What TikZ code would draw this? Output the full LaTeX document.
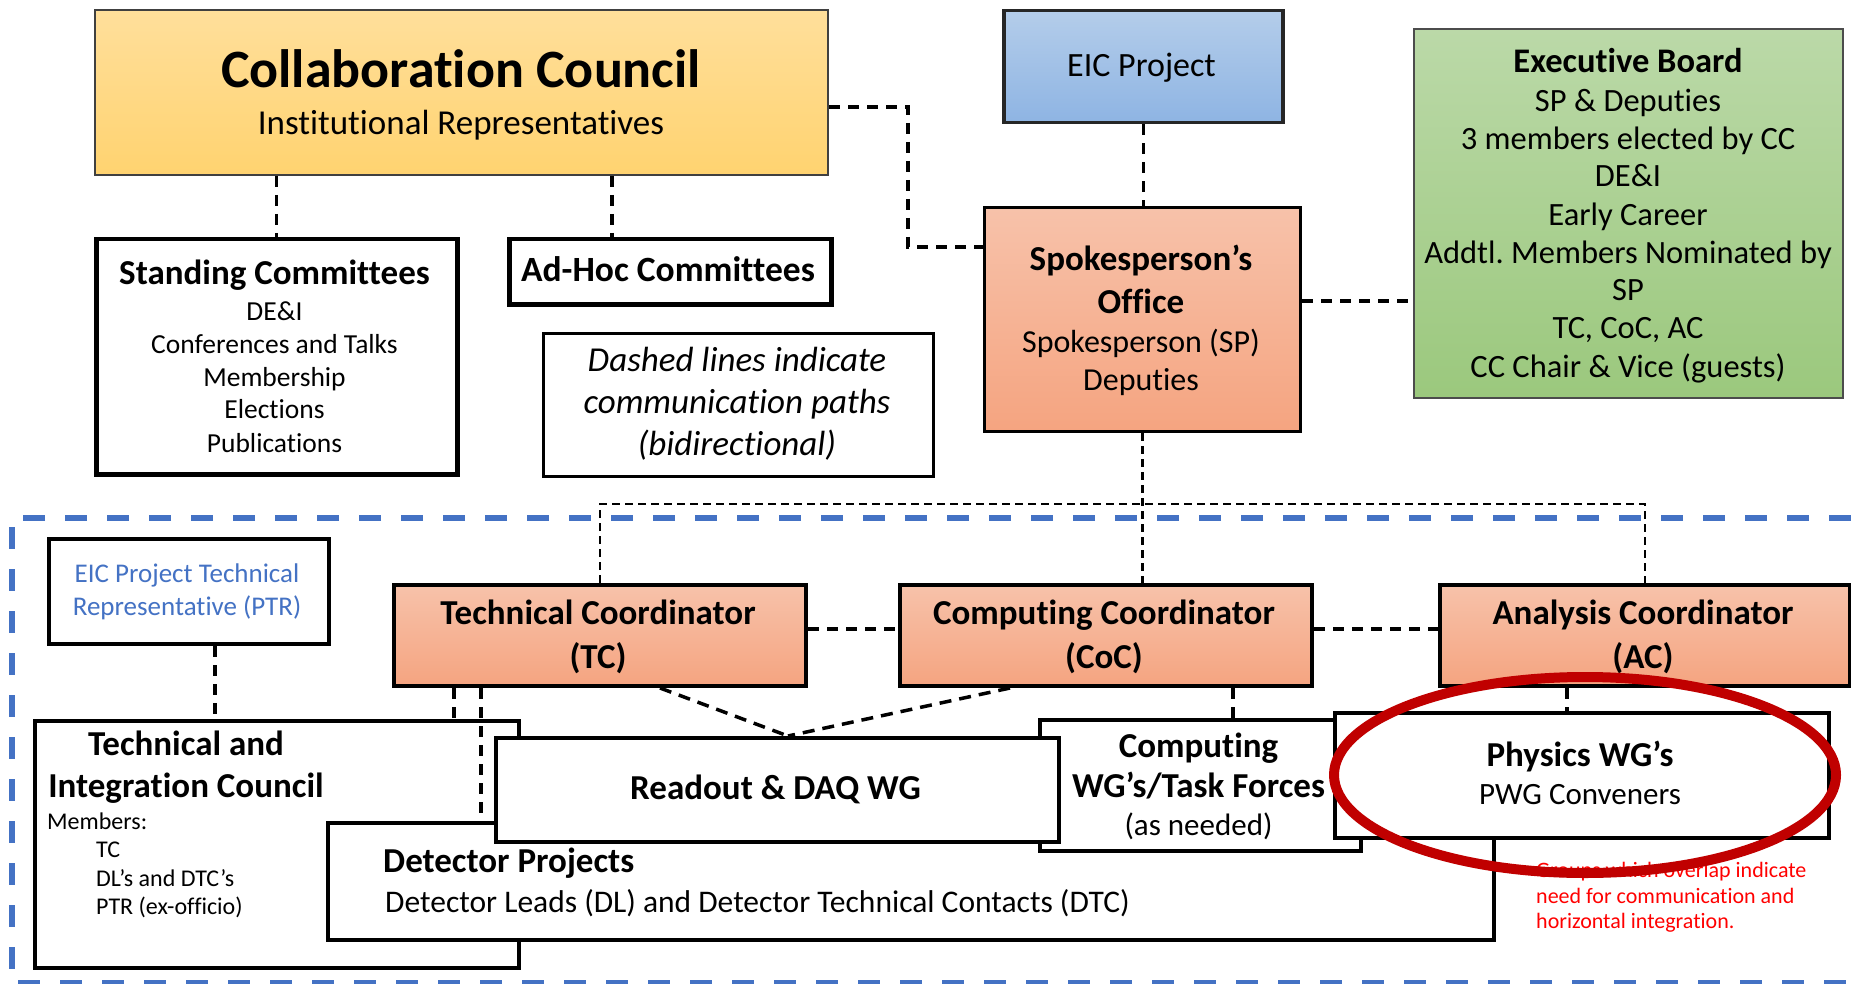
\documentclass[tikz,border=0pt]{standalone}
\usepackage{fontspec}
\setmainfont{Carlito}[Ligatures={TeX,NoCommon}]
\frenchspacing
\definecolor{ccTop}{RGB}{255,223,155}
\definecolor{ccBot}{RGB}{255,211,112}
\definecolor{eicTop}{RGB}{180,205,234}
\definecolor{eicBot}{RGB}{142,180,227}
\definecolor{orTop}{RGB}{247,194,170}
\definecolor{orBot}{RGB}{245,164,128}
\definecolor{grTop}{RGB}{187,217,168}
\definecolor{grBot}{RGB}{155,200,125}
\definecolor{frameBlue}{RGB}{68,114,196}
\definecolor{ovalRed}{RGB}{192,0,0}
\definecolor{noteRed}{RGB}{255,0,0}
\newcommand\myfs[1]{\fontsize{#1}{#1}\selectfont}
\tikzset{
  conn/.style={line width=3.2pt, dash pattern=on 11pt off 8pt},
  diagconn/.style={line width=3.5pt, dash pattern=on 12pt off 8pt},
  fine/.style={line width=2.3pt, dash pattern=on 8pt off 5pt},
  boxbase/.style={inner sep=0pt, anchor=north west},
  wbox/.style={boxbase, draw=black, fill=white, line width=4pt},
  orbox/.style={boxbase, draw=black, line width=4pt, top color=orTop, bottom color=orBot},
  txt/.style={inner sep=0pt, anchor=base},
  ltxt/.style={inner sep=0pt, anchor=base west},
  bt/.style={txt, font=\bfseries\myfs{35}},
  rt/.style={txt, font=\myfs{31}},
}
\begin{document}
\begin{tikzpicture}[x=1pt,y=-1pt]
\useasboundingbox (0,0) rectangle (1851,984);

% ---------- top part boxes ----------
\node[boxbase, draw=black!75, line width=2pt, top color=ccTop, bottom color=ccBot,
      minimum width=733, minimum height=165] (CC) at (94,9) {};
\node[wbox, line width=4.5pt, minimum width=361, minimum height=235] (Std) at (94,237) {};
\node[wbox, line width=4.5pt, minimum width=322, minimum height=65] (AdHoc) at (507,237) {};
\node[wbox, line width=3pt, minimum width=390, minimum height=143] (Note) at (542,332) {};
\node[boxbase, draw=black!85, line width=3.5pt, top color=eicTop, bottom color=eicBot,
      minimum width=279, minimum height=112] (EIC) at (1002,9) {};
\node[boxbase, draw=black, line width=3pt, top color=orTop, bottom color=orBot,
      minimum width=316, minimum height=224] (SO) at (983,206) {};
\node[boxbase, draw=black!70, line width=2pt, top color=grTop, bottom color=grBot,
      minimum width=429, minimum height=369] (EB) at (1413,28) {};

% ---------- blue dashed frame ----------
\draw[frameBlue, line width=6pt, dash pattern=on 22pt off 20pt]
  (1851,518) -- (12,518) -- (12,983) -- (1851,983);

% ---------- lower part boxes ----------
\node[wbox, minimum width=280, minimum height=105] (PTR) at (47,537) {};
\node[orbox, minimum width=412, minimum height=101] (TC) at (392,583) {};
\node[orbox, minimum width=412, minimum height=101] (CoC) at (898,583) {};
\node[orbox, minimum width=410, minimum height=101] (AC) at (1438,583) {};
\node[wbox, minimum width=484, minimum height=247] (TIC) at (33,719) {};
\node[wbox, line width=3.5pt, minimum width=1166, minimum height=117] (Det) at (326,821) {};
\node[wbox, line width=3.5pt, minimum width=321, minimum height=131] (Comp) at (1038,718) {};
\node[wbox, line width=3.5pt, minimum width=563, minimum height=104] (Read) at (494,736) {};
\node[wbox, line width=3.5pt, minimum width=494, minimum height=125] (Phys) at (1333,711) {};

% ---------- helper coordinates ----------
\coordinate (xAd) at (612,0);
\coordinate (yCC) at (0,107);
\coordinate (ccso) at (908,247);
\coordinate (ySE) at (0,301);
\coordinate (yFine) at (0,504);
\coordinate (yMid) at (0,629);
\coordinate (xPtr) at (215,0);
\coordinate (xTa) at (454,0);
\coordinate (xTb) at (481,0);
\coordinate (xTd) at (660,0);
\coordinate (xRd) at (788,0);
\coordinate (xCd) at (1010,0);
\coordinate (xCw) at (1233,0);
\coordinate (xPw) at (1567,0);

% ---------- connectors ----------
\draw[conn] (CC.south -| Std.north) -- (Std.north);
\draw[conn] (CC.south -| xAd) -- (AdHoc.north -| xAd);
\draw[conn] (CC.east |- yCC) -| (ccso) -- (SO.west |- ccso);
\draw[conn] (EIC.south) -- (EIC.south |- SO.north);
\draw[conn] (SO.east |- ySE) -- (EB.west |- ySE);

\draw[fine] (SO.south) -- (SO.south |- CoC.north);
\draw[fine] (TC.north) |- (AC.north |- yFine) -- (AC.north);

\draw[conn] (TC.east |- yMid) -- (CoC.west |- yMid);
\draw[conn] (CoC.east |- yMid) -- (AC.west |- yMid);
\draw[conn] (PTR.south -| xPtr) -- (TIC.north -| xPtr);
\draw[conn] (TC.south -| xTa) -- (TIC.north -| xTa);
\draw[conn] (TC.south -| xTb) -- (Det.north -| xTb);
\draw[diagconn] (TC.south -| xTd) -- (Read.north -| xRd);
\draw[diagconn] (CoC.south -| xCd) -- (Read.north -| xRd);
\draw[conn] (CoC.south -| xCw) -- (Comp.north -| xCw);
\draw[conn] (AC.south -| xPw) -- (Phys.north -| xPw);

% ---------- texts ----------
\node[txt, font=\bfseries\myfs{54}] (ccT) at (461,88) {Collaboration Council};
\node[txt, font=\myfs{35}] (ccS) at (461,135) {Institutional Representatives};

\node[txt, font=\bfseries\myfs{35}] (stdT) at (274.5,284) {Standing Committees};
\foreach \t/\y [count=\i] in {DE\&I/320, Conferences and Talks/353, Membership/386, Elections/418, Publications/452}
  {\node[txt, font=\myfs{27.5}] (std\i) at (274.5,\y) {\t};}

\node[txt, font=\bfseries\myfs{35.5}] (adT) at (668,281) {Ad-Hoc Committees};

\foreach \t/\y [count=\i] in {Dashed lines indicate/371, communication paths/413, (bidirectional)/455}
  {\node[txt, font=\itshape\myfs{35}] (note\i) at (737,\y) {\t};}

\node[txt, font=\myfs{34}] (eicT) at (1141.5,77) {EIC Project};

\node[txt, font=\bfseries\myfs{35}] (soT1) at (1141,270) {Spokesperson’s};
\node[txt, font=\bfseries\myfs{35}] (soT2) at (1141,313) {Office};
\node[txt, font=\myfs{32}] (soS1) at (1141,352) {Spokesperson (SP)};
\node[txt, font=\myfs{32}] (soS2) at (1141,390) {Deputies};

\node[txt, font=\bfseries\myfs{34.5}] (ebT) at (1628,73) {Executive Board};
\foreach \t/\y [count=\i] in {SP \& Deputies/112, 3 members elected by CC/150, DE\&I/187, Early Career/226,
   Addtl.\ Members Nominated by/263, SP/300, {TC, CoC, AC}/338, CC Chair \& Vice (guests)/377}
  {\node[txt, font=\myfs{32.5}] (eb\i) at (1628,\y) {\t};}

\node[txt, font=\myfs{27}, text=frameBlue] (ptr1) at (187,582) {EIC Project Technical};
\node[txt, font=\myfs{27}, text=frameBlue] (ptr2) at (187,615) {Representative (PTR)};

\node[bt] (tc1) at (598,624) {Technical Coordinator};
\node[bt] (tc2) at (598,668) {(TC)};
\node[bt] (coc1) at (1104,624) {Computing Coordinator};
\node[bt] (coc2) at (1104,668) {(CoC)};
\node[bt] (ac1) at (1643,624) {Analysis Coordinator};
\node[bt] (ac2) at (1643,668) {(AC)};

\node[bt] (tic1) at (186,755) {Technical and};
\node[bt] (tic2) at (186,797) {Integration Council};
\node[ltxt, font=\myfs{24}] (tic3) at (47,829) {Members:};
\foreach \t/\y [count=\i] in {TC/857, DL’s and DTC’s/886, PTR (ex-officio)/914}
  {\node[ltxt, font=\myfs{24}] (ticm\i) at (96,\y) {\t};}

\node[ltxt, font=\bfseries\myfs{35}] (detT) at (383,872) {Detector Projects};
\node[ltxt, font=\myfs{31.5}] (detS) at (385,912) {Detector Leads (DL) and Detector Technical Contacts (DTC)};

\node[bt] (readT) at (775.5,799) {Readout \& DAQ WG};

\node[bt] (comp1) at (1198.5,757) {Computing};
\node[bt] (comp2) at (1198.5,797) {WG’s/Task Forces};
\node[rt] (comp3) at (1198.5,835) {(as needed)};

\node[bt] (phys1) at (1580,766) {Physics WG’s};
\node[rt] (phys2) at (1580,804) {PWG Conveners};

\foreach \t/\y [count=\i] in {Groups which overlap indicate/877, need for communication and/903, horizontal integration./928}
  {\node[ltxt, font=\myfs{22}, text=noteRed] (red\i) at (1536,\y) {\t};}

% ---------- red oval ----------
\draw[ovalRed, line width=10pt] (1585,775) ellipse [x radius=251, y radius=98];
\end{tikzpicture}
\end{document}
